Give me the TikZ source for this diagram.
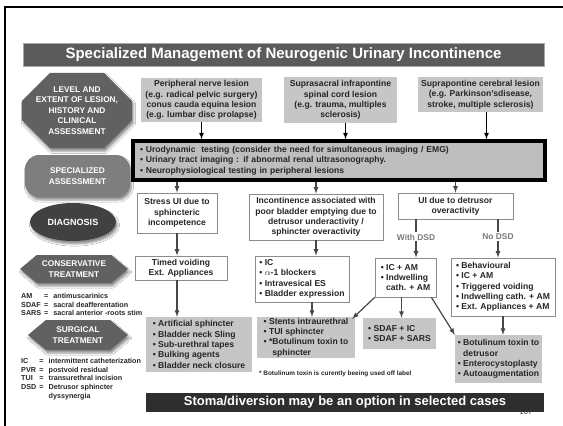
\documentclass[tikz,border=0pt]{standalone}
\usepackage{fontspec}
\setmainfont{Liberation Sans}
\usetikzlibrary{shapes.geometric, shapes.misc, shapes.symbols, shadows.blur}

\definecolor{titlefill}{HTML}{5B5B5B}
\definecolor{stagedark}{HTML}{616161}
\definecolor{stagemid}{HTML}{7E7E7E}
\definecolor{stagedeep}{HTML}{414141}
\definecolor{lightbox}{HTML}{C6C6C6}
\definecolor{assessfill}{HTML}{BEBEBE}
\definecolor{stomafill}{HTML}{2E2E2E}
\definecolor{ink}{HTML}{262626}
\definecolor{linegray}{HTML}{474747}
\definecolor{boxedge}{HTML}{8C8C8C}
\definecolor{labelgray}{HTML}{7A7A7A}

\begin{document}
\begin{tikzpicture}[x=1pt, y=-1pt,
  every node/.style={inner sep=0pt},
  stage/.style={text=white, align=center, font=\fontsize{8.3}{10.4}\selectfont\bfseries,
    blur shadow={shadow xshift=1.5pt, shadow yshift=-3pt, shadow opacity=45}},
  lesion/.style={fill=lightbox, text=ink, align=center, font=\fontsize{8.6}{10.3}\selectfont\bfseries},
  plain/.style={draw=boxedge, fill=white, line width=0.8pt, text=ink, align=center,
    font=\fontsize{8.6}{10.3}\selectfont\bfseries},
  surg/.style={fill=lightbox, text=ink, align=left, font=\fontsize{8.6}{10.3}\selectfont\bfseries},
  feed/.style={->, >=latex, line width=1.2pt, draw=black},
  flow/.style={->, >=latex, line width=1.2pt, draw=linegray},
  legend/.style={text=ink, font=\fontsize{7.2}{8.7}\selectfont\bfseries}]
  \useasboundingbox (0,0) rectangle (563,426);
  \fill[white] (0,0) rectangle (563,426);
  % slide frame
  \draw[line width=2pt] (5,426) -- (5,7) -- (563,7);

  \node[fill=titlefill, draw=gray!70, text=white, minimum width=521, minimum height=23,
    font=\fontsize{15}{18}\selectfont\bfseries] (title) at (283.5,54.5)
    {Specialized Management of Neurogenic Urinary Incontinence};

  % stages down the left side
  \node[stage, fill=stagedark, chamfered rectangle, chamfered rectangle xsep=14pt,
    chamfered rectangle ysep=14pt, minimum width=110, minimum height=64] (level) at (77,110.5)
    {LEVEL AND\\EXTENT OF LESION,\\HISTORY AND\\CLINICAL\\ASSESSMENT};
  \node[stage, fill=stagemid, rounded corners=14pt, minimum width=105, minimum height=42] (special) at (77.5,176)
    {SPECIALIZED\\ASSESSMENT};
  \node[stage, fill=stagedeep, ellipse, minimum width=86, minimum height=38,
    font=\fontsize{9}{10.4}\selectfont\bfseries] (diag) at (73,222) {DIAGNOSIS};
  \node[stage, fill=stagedark, signal, signal to=west and east, signal pointer angle=80,
    minimum width=108, minimum height=28] (conserv) at (74,269) {CONSERVATIVE\\TREATMENT};
  \node[stage, fill=stagedark, signal, signal to=west and east, signal pointer angle=80,
    minimum width=100, minimum height=30] (surgical) at (78,335) {SURGICAL\\TREATMENT};

  \node[legend, anchor=base west] (legA) at (21,298.5) {\begin{tabular}[t]{@{}l@{\hspace{3pt}}l@{\hspace{5pt}}l@{}}
    AM & = & antimuscarinics\\
    SDAF & = & sacral deafferentation\\
    SARS & = & sacral anterior -roots stim
  \end{tabular}};
  \node[legend, anchor=base west] (legB) at (21,363.5) {\begin{tabular}[t]{@{}l@{\hspace{3pt}}l@{\hspace{5pt}}l@{}}
    IC & = & intermittent catheterization\\
    PVR & = & postvoid residual\\
    TUI & = & transurethral incision\\
    DSD & = & Detrusor sphincter\\
        &   & dyssynergia
  \end{tabular}};

  % lesion level
  \node[lesion, minimum width=121, minimum height=44] (periph) at (201.5,100)
    {Peripheral nerve lesion\\(e.g. radical pelvic surgery)\\conus cauda equina lesion\\(e.g. lumbar disc prolapse)};
  \node[lesion, minimum width=113, minimum height=46] (suprasac) at (340.5,100)
    {Suprasacral infrapontine\\spinal cord lesion\\(e.g. trauma, multiples\\sclerosis)};
  \node[lesion, minimum width=125, minimum height=35] (suprapon) at (480.5,94.5)
    {Suprapontine cerebral lesion\\(e.g. Parkinson'sdisease,\\stroke, multiple sclerosis)};

  % specialized assessment
  \node[fill=assessfill, draw=black, line width=3.5pt, text=ink, minimum width=412, minimum height=39,
    text width=398, align=left, font=\fontsize{8.6}{10.3}\selectfont\bfseries] (assess) at (339,160.5)
    {• Urodynamic\ \ testing (consider the need for simultaneous imaging / EMG)\\
     • Urinary tract imaging : if abnormal renal ultrasonography.\\
     • Neurophysiological testing in peripheral lesions};

  % diagnosis
  \node[plain, minimum width=80, minimum height=40] (stress) at (177,213)
    {Stress UI due to\\sphincteric\\incompetence};
  \node[plain, minimum width=134, minimum height=46] (incont) at (316,217)
    {Incontinence associated with\\poor bladder emptying due to\\detrusor underactivity /\\sphincter overactivity};
  \node[plain, minimum width=115, minimum height=26] (detrus) at (455.5,206)
    {UI due to detrusor\\overactivity};
  \node[text=labelgray, font=\fontsize{8.4}{10}\selectfont\bfseries] (withdsd) at (416,237) {With DSD};
  \node[text=labelgray, font=\fontsize{8.4}{10}\selectfont\bfseries] (nodsd) at (498,237) {No DSD};

  % conservative treatment
  \node[plain, minimum width=92, minimum height=24] (timed) at (181,268)
    {Timed voiding\\Ext. Appliances};
  \node[plain, minimum width=94, minimum height=46, align=left] (icbox) at (302,279)
    {• IC\\• $\alpha$-1 blockers\\• Intravesical ES\\• Bladder expression};
  \node[plain, minimum width=61, minimum height=39, align=left] (icam) at (405.5,277.5)
    {• IC + AM\\• Indwelling\\\phantom{• }cath. + AM};
  \node[plain, minimum width=104, minimum height=58, align=left] (behav) at (503,287)
    {• Behavioural\\• IC + AM\\• Triggered voiding\\• Indwelling cath. + AM\\• Ext. Appliances + AM};

  % surgical treatment
  \node[surg, minimum width=106, minimum height=55] (artif) at (199,344.5)
    {• Artificial sphincter\\• Bladder neck Sling\\• Sub-urethral tapes\\• Bulking agents\\• Bladder neck closure};
  \node[surg, minimum width=98, minimum height=41] (stents) at (306,337.5)
    {• Stents intraurethral\\• TUI sphincter\\• *Botulinum toxin to\\\phantom{• *}sphincter};
  \node[surg, minimum width=73, minimum height=31] (sdaf) at (399.5,333.5)
    {• SDAF + IC\\• SDAF + SARS};
  \node[surg, minimum width=87, minimum height=48] (botdet) at (498.5,359)
    {• Botulinum toxin to\\\phantom{• }detrusor\\• Enterocystoplasty\\• Autoaugmentation};
  \node[text=ink, anchor=west, font=\fontsize{6.4}{7.5}\selectfont\bfseries] (note) at (259,374)
    {* Botulinum toxin is curently beeing used off label};

  \node[fill=stomafill, text=white, minimum width=398, minimum height=19,
    font=\fontsize{13}{15}\selectfont\bfseries] (stoma) at (345,402.5)
    {Stoma/diversion may be an option in selected cases};
  \node[text=black!80, font=\fontsize{7.5}{8}\selectfont] (page) at (526,412) {107};

  % connectors
  \draw[feed] (periph.south) -- (periph.south |- assess.north);
  \draw[feed] ([xshift=5pt]suprasac.south) -- ([xshift=5pt]suprasac.south |- assess.north);
  \draw[feed] ([xshift=6pt]suprapon.south) -- ([xshift=6pt]suprapon.south |- assess.north);
  \draw[flow] (stress.north |- assess.south) -- (stress.north);
  \draw[flow] (incont.north |- assess.south) -- (incont.north);
  \draw[flow] (detrus.north |- assess.south) -- (detrus.north);
  \draw[flow, -] (withdsd.north |- detrus.south) -- ([yshift=2pt]withdsd.north);
  \draw[flow] ([yshift=-1pt]withdsd.south) -- (withdsd.south |- icam.north);
  \draw[flow, -] (nodsd.north |- detrus.south) -- ([yshift=2pt]nodsd.north);
  \draw[flow] ([yshift=-1pt]nodsd.south) -- (nodsd.south |- behav.north);
  \draw[flow] (stress.south) -- (stress.south |- timed.north);
  \draw[flow] (stress.south |- timed.south) -- (stress.south |- artif.north);
  \draw[flow] (incont.south) -- (incont.south |- icbox.north);
  \draw[flow] ([xshift=-4pt]incont.south |- icbox.south) -- ([xshift=-4pt]incont.south |- stents.north);
  \draw[flow] (icam.south west) -- ([xshift=-3pt,yshift=-2pt]stents.north east);
  \draw[flow] ([xshift=2pt]sdaf.north |- icam.south) -- ([xshift=2pt]sdaf.north);
  \draw[flow] ([xshift=-5pt]icam.south east) -- (botdet.north west);
  \draw[flow] (behav.south) -- (behav.south |- botdet.north);
\end{tikzpicture}
\end{document}
